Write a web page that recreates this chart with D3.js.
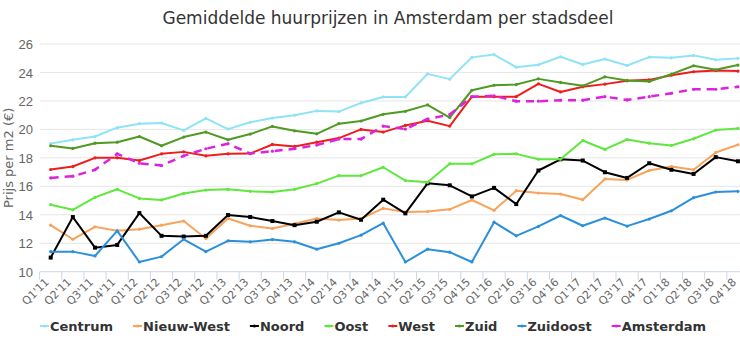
<!DOCTYPE html>
<html>
<head>
<meta charset="utf-8">
<script src="https://cdn.jsdelivr.net/npm/d3@7"></script>
<style>
	body { margin: 0; background: #fff; }
	svg { display: block; font-family: "DejaVu Sans", sans-serif; }
</style>
</head>
<body>
<svg id="chart"></svg>
<script>

const quarters = ["Q1'11","Q2'11","Q3'11","Q4'11","Q1'12","Q2'12","Q3'12","Q4'12",
	"Q1'13","Q2'13","Q3'13","Q4'13","Q1'14","Q2'14","Q3'14","Q4'14",
	"Q1'15","Q2'15","Q3'15","Q4'15","Q1'16","Q2'16","Q3'16","Q4'16",
	"Q1'17","Q2'17","Q3'17","Q4'17","Q1'18","Q2'18","Q3'18","Q4'18"];

const yTicks = [10, 12, 14, 16, 18, 20, 22, 24, 26];

const centrum = [19.0, 19.27, 19.5, 20.12, 20.4, 20.45, 19.93, 20.78, 20.02, 20.5, 20.8, 21.0, 21.3, 21.25, 21.86, 22.28,
	22.28, 23.9, 23.53, 25.06, 25.26, 24.37, 24.54, 25.1, 24.56, 24.94, 24.49, 25.08, 25.03, 25.2, 24.89, 24.99];
const nieuwWest = [13.27, 12.28, 13.15, 12.87, 12.99, 13.27, 13.56, 12.33, 13.74, 13.23, 13.04, 13.37, 13.74, 13.63, 13.74, 14.45,
	14.19, 14.23, 14.38, 15.04, 14.31, 15.69, 15.53, 15.46, 15.06, 16.52, 16.45, 17.11, 17.39, 17.16, 18.38, 18.92];
const noord = [10.99, 13.84, 11.69, 11.88, 14.12, 12.52, 12.47, 12.52, 13.98, 13.84, 13.56, 13.27, 13.51, 14.17, 13.65, 15.06,
	14.1, 16.21, 16.07, 15.29, 15.89, 14.75, 17.11, 17.9, 17.81, 16.99, 16.59, 17.62, 17.16, 16.87, 18.05, 17.76];
const oost = [14.71, 14.35, 15.22, 15.79, 15.15, 15.04, 15.5, 15.74, 15.79, 15.65, 15.6, 15.79, 16.19, 16.75, 16.75, 17.34,
	16.4, 16.28, 17.58, 17.58, 18.25, 18.28, 17.9, 17.9, 19.22, 18.59, 19.29, 19.03, 18.87, 19.34, 19.95, 20.07];
const west = [17.18, 17.39, 18.0, 18.0, 17.81, 18.28, 18.42, 18.14, 18.28, 18.3, 18.94, 18.8, 19.1, 19.39, 20.0, 19.81,
	20.28, 20.61, 20.23, 22.3, 22.3, 22.3, 23.2, 22.63, 22.99, 23.18, 23.41, 23.48, 23.81, 24.05, 24.14, 24.1];
const zuid = [18.85, 18.66, 19.03, 19.1, 19.5, 18.85, 19.46, 19.81, 19.27, 19.67, 20.21, 19.9, 19.69, 20.4, 20.59, 21.06,
	21.27, 21.72, 20.83, 22.75, 23.1, 23.15, 23.55, 23.3, 23.06, 23.69, 23.44, 23.37, 23.88, 24.47, 24.19, 24.52];
const zuidoost = [11.41, 11.41, 11.11, 12.87, 10.68, 11.06, 12.28, 11.41, 12.17, 12.1, 12.26, 12.1, 11.58, 12.0, 12.57, 13.41,
	10.68, 11.58, 11.37, 10.68, 13.48, 12.52, 13.18, 13.95, 13.23, 13.77, 13.2, 13.7, 14.28, 15.2, 15.6, 15.65];
const amsterdam = [16.59, 16.71, 17.16, 18.28, 17.62, 17.46, 18.14, 18.64, 18.99, 18.3, 18.47, 18.64, 18.9, 19.32, 19.32, 20.23,
	20.02, 20.73, 21.04, 22.3, 22.36, 21.98, 21.98, 22.05, 22.05, 22.3, 22.07, 22.3, 22.54, 22.82, 22.82, 22.99];

const seriesNames = ["Centrum", "Nieuw-West", "Noord", "Oost", "West", "Zuid", "Zuidoost", "Amsterdam"];
const seriesValues = [centrum, nieuwWest, noord, oost, west, zuid, zuidoost, amsterdam];

// colours per series, same order as the names
const colors = ["#8fe3f7", "#f7a35c", "#000000", "#5ee83c", "#ee1d1d", "#4f9a22", "#2b90d9", "#dd22dd"];

let width = 740, height = 352;
let margin = {top: 44, right: -9, bottom: 81, left: 40};

let svg = d3.select("#chart")
	.attr("width", width)
	.attr("height", height);

let xscale = d3.scaleBand()
	.domain(quarters)
	.range([margin.left - 0.4, width - margin.right]);

let yscale = d3.scaleLinear()
	.domain([10, 26])
	.range([height - margin.bottom + 0.7, margin.top]);

let cx = d => xscale(d) + xscale.bandwidth() / 2;

// grid lines
svg.append("g")
	.selectAll("line")
	.data(yTicks.slice(1))
	.enter()
	.append("line")
	.attr("x1", margin.left)
	.attr("x2", width)
	.attr("y1", d => yscale(d))
	.attr("y2", d => yscale(d))
	.attr("stroke", "#e6e6e6")
	.attr("stroke-width", 1);

// y axis labels
let yAxis = svg.append("g")
	.attr("transform", "translate(" + (margin.left - 4) + ",0)")
	.call(d3.axisLeft(yscale).tickValues(yTicks).tickSize(0).tickFormat(d3.format("d")));
yAxis.select(".domain").remove();
yAxis.selectAll("text")
	.style("font-family", "'Liberation Sans', sans-serif")
	.style("font-size", "13px")
	.style("fill", "#666")
	.attr("dy", "0.35em");

svg.append("text")
	.attr("transform", "translate(13," + yscale(18) + ") rotate(-90)")
	.attr("text-anchor", "middle")
	.style("font-size", "13px")
	.style("fill", "#666")
	.text("Prijs per m2 (€)");

// x axis
let x0 = yscale(10);
svg.append("line")
	.attr("x1", margin.left).attr("x2", width)
	.attr("y1", x0).attr("y2", x0)
	.attr("stroke", "#ccd6eb");

svg.append("g")
	.selectAll("line")
	.data(quarters)
	.enter()
	.append("line")
	.attr("x1", d => xscale(d)).attr("x2", d => xscale(d))
	.attr("y1", x0).attr("y2", x0 + 8)
	.attr("stroke", "#ccd6eb");

svg.append("g")
	.selectAll("text")
	.data(quarters)
	.enter()
	.append("text")
	.attr("transform", d => "translate(" + (cx(d) - 1) + "," + (x0 + 11) + ") rotate(-45)")
	.attr("text-anchor", "end")
	.style("font-size", "11px")
	.style("fill", "#666")
	.text(d => d);

// series
let line = d3.line()
	.x((d, i) => cx(quarters[i]))
	.y(d => yscale(d));

seriesValues.forEach(function(values, k) {
	let g = svg.append("g");
	g.append("path")
		.datum(values)
		.attr("d", line)
		.attr("fill", "none")
		.attr("stroke", colors[k])
		.attr("stroke-width", k == 7 ? 2.5 : 2)
		.attr("stroke-dasharray", k == 7 ? "8,6" : null)
		.attr("stroke-linejoin", "round");

	if (seriesNames[k] == "Noord") {
		g.selectAll("rect")
			.data(values)
			.enter()
			.append("rect")
			.attr("x", (d, i) => cx(quarters[i]) - 2)
			.attr("y", d => yscale(d) - 2)
			.attr("width", 4)
			.attr("height", 4)
			.attr("fill", colors[k]);
	} else {
		g.selectAll("circle")
			.data(values)
			.enter()
			.append("circle")
			.attr("cx", (d, i) => cx(quarters[i]))
			.attr("cy", d => yscale(d))
			.attr("r", 1.6)
			.attr("fill", colors[k]);
	}
});

// title
svg.append("text")
	.attr("x", 388)
	.attr("y", 24)
	.attr("text-anchor", "middle")
	.style("font-size", "17px")
	.style("fill", "#333")
	.text("Gemiddelde huurprijzen in Amsterdam per stadsdeel");

// legend
let legend = svg.append("g").attr("transform", "translate(0,326)");
let lx = 40;
seriesNames.forEach(function(name, k) {
	let item = legend.append("g").attr("transform", "translate(" + lx + ",0)");
	item.append("line")
		.attr("x1", 0).attr("x2", 9)
		.attr("y1", 0).attr("y2", 0)
		.attr("stroke", colors[k])
		.attr("stroke-width", 2);
	item.append("circle")
		.attr("cx", 4.5).attr("cy", 0).attr("r", 1.6)
		.attr("fill", colors[k]);
	let t = item.append("text")
		.attr("x", 10)
		.attr("dy", "0.35em")
		.style("font-size", "13px")
		.style("font-weight", "bold")
		.style("fill", "#333")
		.text(name);
	lx += 10 + t.node().getComputedTextLength() + 20;
});

</script>
</body>
</html>
